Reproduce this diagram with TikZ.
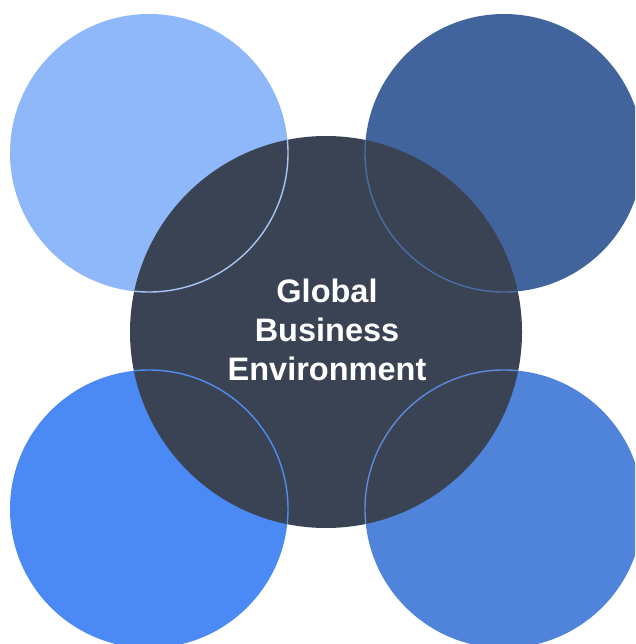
\documentclass[tikz,border=0pt]{standalone}
\usepackage{fontspec}
\setmainfont{Liberation Sans}
\definecolor{cTL}{HTML}{8FB8FA}
\definecolor{cTR}{HTML}{42649C}
\definecolor{cBL}{HTML}{4B8AF5}
\definecolor{cBR}{HTML}{4F84DA}
\definecolor{cCore}{HTML}{3A4354}
\definecolor{lTL}{HTML}{A8C6F4}
\definecolor{lTR}{HTML}{4A6DA6}
\definecolor{lBL}{HTML}{4F8DF2}
\definecolor{lBR}{HTML}{5A8BDD}
\begin{document}
\begin{tikzpicture}[x=1pt,y=-1pt,
  petal/.style={circle,minimum size=278pt,inner sep=0pt},
  core/.style={circle,minimum size=392pt,inner sep=0pt,fill=cCore},
  rim/.style={line width=1.4pt}]
\useasboundingbox (0,0) rectangle (635,644);
\begin{scope}
\clip (0,0) rectangle (635,644);
% outer discs
\node[petal,fill=cTL] (tl) at (149,153) {};
\node[petal,fill=cTR] (tr) at (504,153) {};
\node[petal,fill=cBL] (bl) at (149,509) {};
\node[petal,fill=cBR] (br) at (504,509) {};
% central disc
\node[core] (core) at (326,332) {};
% outlines of the outer discs, visible only across the central disc
\begin{scope}
\clip (core.center) circle[radius=196pt];
\draw[rim,draw=lTL] (tl.center) circle[radius=139pt];
\draw[rim,draw=lTR] (tr.center) circle[radius=139pt];
\draw[rim,draw=lBL] (bl.center) circle[radius=139pt];
\draw[rim,draw=lBR] (br.center) circle[radius=139pt];
\end{scope}
\end{scope}
\node[text=white,font=\bfseries\fontsize{32.5}{39}\selectfont,align=center,inner sep=0pt]
  (title) at (327,330) {Global\\Business\\Environment};
\end{tikzpicture}
\end{document}
